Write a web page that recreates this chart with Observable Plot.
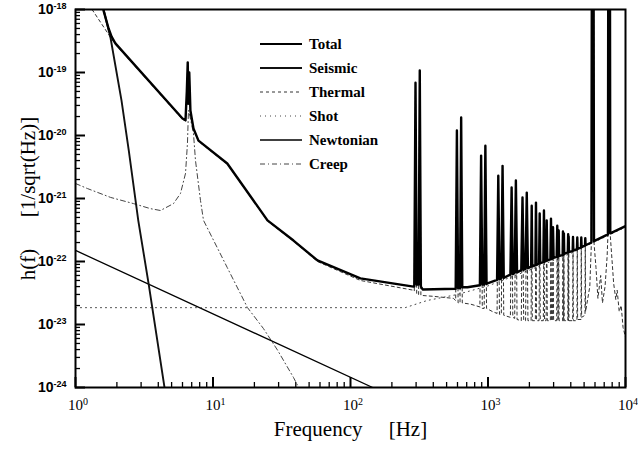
<!DOCTYPE html>
<html><head><meta charset="utf-8">
<script src="https://cdn.jsdelivr.net/npm/d3@7"></script>
<script src="https://cdn.jsdelivr.net/npm/@observablehq/plot@0.6"></script>
<style>
body{margin:0;background:#fff;}
#wrap{position:relative;width:638px;height:459px;}
#legend{position:absolute;left:0;top:0;}
</style></head><body><div id="wrap"></div>
<script>
// ---- data: [frequency Hz, h(f) 1/sqrt(Hz)] ----
const totalPts = [[1.6,9.6e-19],[1.74,5.0e-19],[1.83,3.7e-19],[1.95,2.9e-19],[6.0,1.86e-20],[6.31,1.74e-20],[6.45,5.0e-20],[6.55,1.45e-19],[6.62,3.2e-20],[6.72,1.0e-19],[6.85,2.5e-20],[7.21,1.29e-20],[7.84,8.3e-21],[12.7,3.6e-21],[24.9,4.5e-22],[38.5,2.15e-22],[57.5,1.04e-22],[118,5.4e-23],[287,4.0e-23],[291,4.0e-23],[297,6.9e-20],[303,4.3e-23],[313,4.3e-23],[319,1.08e-19],[325,4.0e-23],[335,3.6e-23],[582,3.7e-23],[594,1.2e-20],[606,3.8e-23],[626,3.8e-23],[638,1.93e-20],[650,3.9e-23],[709,3.9e-23],[873,4.2e-23],[891,4.8e-21],[909,4.3e-23],[938,4.3e-23],[957,6.9e-21],[976,4.4e-23],[991,4.5e-23],[1164,5.1e-23],[1188,2.3e-21],[1212,5.2e-23],[1250,5.4e-23],[1276,3.3e-21],[1302,5.5e-23],[1455,6.2e-23],[1485,1.5e-21],[1515,6.3e-23],[1563,6.6e-23],[1595,1.93e-21],[1627,6.7e-23],[1746,7.3e-23],[1782,1.04e-21],[1818,7.4e-23],[1876,7.7e-23],[1914,1.24e-21],[1952,7.8e-23],[2058,8.3e-23],[2079,7.7e-22],[2100,8.4e-23],[2211,8.7e-23],[2233,8.6e-22],[2255,8.8e-23],[2352,9.3e-23],[2376,5.8e-22],[2400,9.4e-23],[2526,9.8e-23],[2552,6.45e-22],[2578,9.9e-23],[2646,1.02e-22],[2673,4.5e-22],[2700,1.04e-22],[2842,1.08e-22],[2871,4.8e-22],[2900,1.09e-22],[2940,1.12e-22],[2970,3.5e-22],[3000,1.14e-22],[3158,1.18e-22],[3190,3.7e-22],[3222,1.19e-22],[3245,1.21e-22],[3267,3.1e-22],[3290,1.22e-22],[3490,1.27e-22],[3509,3.0e-22],[3530,1.28e-22],[3545,1.3e-22],[3564,2.8e-22],[3585,1.32e-22],[3805,1.39e-22],[3828,2.7e-22],[3845,1.4e-22],[3861,2.5e-22],[3880,1.41e-22],[4130,1.48e-22],[4152,2.45e-22],[4175,1.49e-22],[4435,1.57e-22],[4460,2.4e-22],[4485,1.58e-22],[4745,1.67e-22],[4770,2.4e-22],[4795,1.68e-22],[5075,1.8e-22],[5100,2.35e-22],[5125,1.81e-22],[5650,2.0e-22],[5700,3e-17],[5850,3e-17],[5900,2.1e-22],[7450,2.7e-22],[7500,3e-17],[7700,3e-17],[7750,2.8e-22],[10000,3.65e-22]];
const seismicPts = [[1.6,1.0e-18],[1.8,3.5e-19],[2.16,3.6e-20],[2.44,5.8e-21],[2.86,4.5e-22],[3.41,4.3e-23],[4.44,1.0e-24]];
const thermalPts = [[1.32,1.0e-18],[1.8,3.6e-19],[1.95,2.8e-19],[6.0,1.8e-20],[6.31,1.7e-20],[6.45,4.8e-20],[6.55,1.4e-19],[6.62,3.1e-20],[6.72,9.6e-20],[6.85,2.4e-20],[7.21,1.25e-20],[7.84,8.1e-21],[12.7,3.5e-21],[24.9,4.4e-22],[38.5,2.1e-22],[57.5,1.0e-22],[118,5.0e-23],[287,3.5e-23],[291,3.4e-23],[297,6.7e-20],[303,3.0e-23],[313,3.0e-23],[319,1.05e-19],[325,2.9e-23],[400,2.8e-23],[560,2.6e-23],[582,2.4e-23],[594,1.18e-20],[606,2.2e-23],[626,2.2e-23],[638,1.9e-20],[650,2.2e-23],[750,2.1e-23],[873,1.9e-23],[891,4.7e-21],[909,1.8e-23],[938,1.8e-23],[957,6.8e-21],[976,1.8e-23],[1080,1.6e-23],[1164,1.5e-23],[1188,2.3e-21],[1212,1.45e-23],[1250,1.45e-23],[1276,3.3e-21],[1302,1.4e-23],[1455,1.3e-23],[1485,1.5e-21],[1515,1.3e-23],[1563,1.25e-23],[1595,1.9e-21],[1627,1.2e-23],[1746,1.15e-23],[1782,1.0e-21],[1818,1.15e-23],[1876,1.15e-23],[1914,1.2e-21],[1952,1.15e-23],[2058,1.15e-23],[2079,7.6e-22],[2100,1.15e-23],[2211,1.15e-23],[2233,8.4e-22],[2255,1.15e-23],[2352,1.15e-23],[2376,5.7e-22],[2400,1.15e-23],[2526,1.15e-23],[2552,6.3e-22],[2578,1.15e-23],[2646,1.15e-23],[2673,4.4e-22],[2700,1.15e-23],[2842,1.15e-23],[2871,4.7e-22],[2900,1.15e-23],[2940,1.15e-23],[2970,3.4e-22],[3000,1.15e-23],[3158,1.15e-23],[3190,3.6e-22],[3222,1.15e-23],[3245,1.15e-23],[3267,3.0e-22],[3290,1.15e-23],[3490,1.15e-23],[3509,2.9e-22],[3530,1.15e-23],[3545,1.15e-23],[3564,2.7e-22],[3585,1.15e-23],[3805,1.15e-23],[3828,2.6e-22],[3845,1.15e-23],[3861,2.4e-22],[3880,1.15e-23],[4130,1.15e-23],[4152,2.35e-22],[4175,1.15e-23],[4435,1.15e-23],[4460,2.3e-22],[4485,1.2e-23],[4745,1.2e-23],[4770,2.3e-22],[4795,1.3e-23],[5075,1.4e-23],[5100,2.3e-22],[5125,1.6e-23],[5500,4.0e-23],[5650,2.0e-22],[5700,3e-17],[5850,3e-17],[5900,2.0e-22],[6100,8.0e-23],[6300,2.6e-23],[6600,6.0e-23],[6800,2.2e-23],[7100,4.0e-23],[7350,1.2e-22],[7450,2.6e-22],[7500,3e-17],[7700,3e-17],[7750,2.6e-22],[8200,4.5e-23],[8500,2.5e-23],[8700,3.5e-23],[9000,1.6e-23],[9300,2.0e-23],[9600,9.0e-24],[10000,6.3e-24]];
const shotPts = [[1,1.85e-23],[250,1.85e-23],[360,2.4e-23],[600,3.0e-23],[1000,4.1e-23],[2000,7.3e-23],[4000,1.35e-22],[10000,3.5e-22]];
const newtonianPts = [[1,1.5e-22],[145,1.0e-24]];
const creepPts = [[1,1.73e-21],[1.22,1.44e-21],[1.8,1.04e-21],[2.64,8.3e-22],[3.51,6.9e-22],[4.15,6.45e-22],[5.16,8.3e-22],[5.8,1.2e-21],[6.31,2.5e-21],[6.52,7.5e-21],[6.63,2.5e-20],[6.8,2.0e-20],[7.21,1.08e-20],[7.46,4.0e-21],[8.11,9.3e-22],[8.53,4.5e-22],[12.7,8.0e-23],[17.8,1.86e-23],[23.3,8.6e-24],[29.5,3.9e-24],[38.5,1.44e-24],[42,1.0e-24]];

const legendNames = ["Total","Seismic","Thermal","Shot","Newtonian","Creep"];
const xTicks = [1,10,100,1000,10000];
const xTickExp = ["0","1","2","3","4"];
const yTicks = [1e-24,1e-23,1e-22,1e-21,1e-20,1e-19,1e-18];
const yTickExp = ["-24","-23","-22","-21","-20","-19","-18"];
const xTitle = "Frequency\u00a0\u00a0\u00a0\u00a0\u00a0[Hz]";
const yTitle = "h(f)\u00a0\u00a0\u00a0\u00a0\u00a0\u00a0[1/sqrt(Hz)]";

// ---- styles ----
const styles = {
  Total:     {stroke:"#000", strokeWidth:2.4, dash:null},
  Seismic:   {stroke:"#111", strokeWidth:1.9, dash:null},
  Thermal:   {stroke:"#333", strokeWidth:1,   dash:"3,3"},
  Shot:      {stroke:"#444", strokeWidth:1,   dash:"1,4"},
  Newtonian: {stroke:"#000", strokeWidth:1.3, dash:null},
  Creep:     {stroke:"#444", strokeWidth:1,   dash:"5,3,1,3"}
};
const seriesData = {Total:totalPts, Seismic:seismicPts, Thermal:thermalPts, Shot:shotPts, Newtonian:newtonianPts, Creep:creepPts};

const W = 638, H = 459, mL = 75, mR = 13, mT = 9, mB = 72;
const innerW = W - mL - mR, innerH = H - mT - mB;
const serif = "Liberation Serif";
const sans = "Liberation Sans";

const allX = d3.scaleLog().domain([1,1e4]).ticks();
const minorX = allX.filter(v => !xTicks.includes(v));
const allY = d3.scaleLog().domain([1e-24,1e-18]).ticks();
const minorY = allY.filter(v => !yTicks.some(t => Math.abs(Math.log10(t) - Math.log10(v)) < 1e-6));

const lineOrder = ["Creep","Newtonian","Shot","Thermal","Seismic","Total"];
const lineMarks = lineOrder.map(k => Plot.line(seriesData[k], {
  x: d => d[0], y: d => d[1], stroke: styles[k].stroke, strokeWidth: styles[k].strokeWidth,
  strokeDasharray: styles[k].dash, clip: true
}));

const chart = Plot.plot({
  width: W, height: H, marginLeft: mL, marginRight: mR, marginTop: mT, marginBottom: mB,
  style: {background: "#fff", color: "#000"},
  x: {type: "log", domain: [1, 1e4]},
  y: {type: "log", domain: [1e-24, 1e-18]},
  marks: [
    Plot.ruleX(minorX, {x: d => d, insetTop: innerH - 5, stroke: "#000", strokeWidth: 1.3}),
    Plot.ruleX(xTicks, {x: d => d, insetTop: innerH - 10, stroke: "#000", strokeWidth: 2}),
    Plot.ruleY(minorY, {y: d => d, insetRight: innerW - 5, stroke: "#000", strokeWidth: 1.3}),
    Plot.ruleY(yTicks, {y: d => d, insetRight: innerW - 10, stroke: "#000", strokeWidth: 2}),
    ...lineMarks,
    Plot.axisX(xTicks, {tickSize: 0, tickPadding: 12, label: null, fontSize: 15, fontFamily: serif,
      tickFormat: d => "10^" + xTickExp[xTicks.indexOf(d)]}),
    Plot.axisY(yTicks, {tickSize: 0, tickPadding: 9, label: null, fontSize: 14, fontWeight: "bold",
      fontFamily: sans, tickFormat: d => "10^" + yTickExp[yTicks.indexOf(d)]}),
    Plot.frame({stroke: "#000", strokeWidth: 2}),
    Plot.text([xTitle], {text: d => d, frameAnchor: "bottom", textAnchor: "middle", dy: 48, fontSize: 21, fontFamily: serif}),
    Plot.text([yTitle], {text: d => d, frameAnchor: "left", textAnchor: "middle", lineAnchor: "middle", dx: -47, rotate: -90, fontSize: 21, fontFamily: serif})
  ]
});

const ns = "http://www.w3.org/2000/svg";
function superscript(sel, supSize, shift, startDx) {
  chart.querySelectorAll(sel).forEach(t => {
    const parts = t.textContent.split("^");
    t.textContent = "";
    const a = document.createElementNS(ns, "tspan"); a.textContent = parts[0];
    const b = document.createElementNS(ns, "tspan"); b.textContent = parts[1];
    b.setAttribute("dy", shift); b.setAttribute("font-size", supSize);
    t.append(a, b);
    if (startDx) { t.setAttribute("text-anchor", "start"); t.setAttribute("dx", startDx); }
  });
}
superscript('g[aria-label="x-axis tick label"] text', 10, "-0.55em", "-7.5");
superscript('g[aria-label="y-axis tick label"] text', 9, "-0.6em", null);

const wrap = document.getElementById("wrap");
wrap.appendChild(chart);

// ---- legend (inside the plot area) ----
const leg = d3.select(wrap).append("svg").attr("id","legend").attr("width", W).attr("height", H);
legendNames.forEach((name, i) => {
  const y = 44 + i * 24;
  const s = styles[name];
  leg.append("line").attr("x1", 260).attr("x2", 302).attr("y1", y).attr("y2", y)
    .attr("stroke", s.stroke).attr("stroke-width", Math.min(s.strokeWidth, 2))
    .attr("stroke-dasharray", s.dash);
  leg.append("text").attr("x", 309).attr("y", y).attr("dy", "0.35em")
    .attr("font-family", serif).attr("font-weight", "bold")
    .attr("font-size", 15).attr("fill", "#000").text(name);
});
</script></body></html>
